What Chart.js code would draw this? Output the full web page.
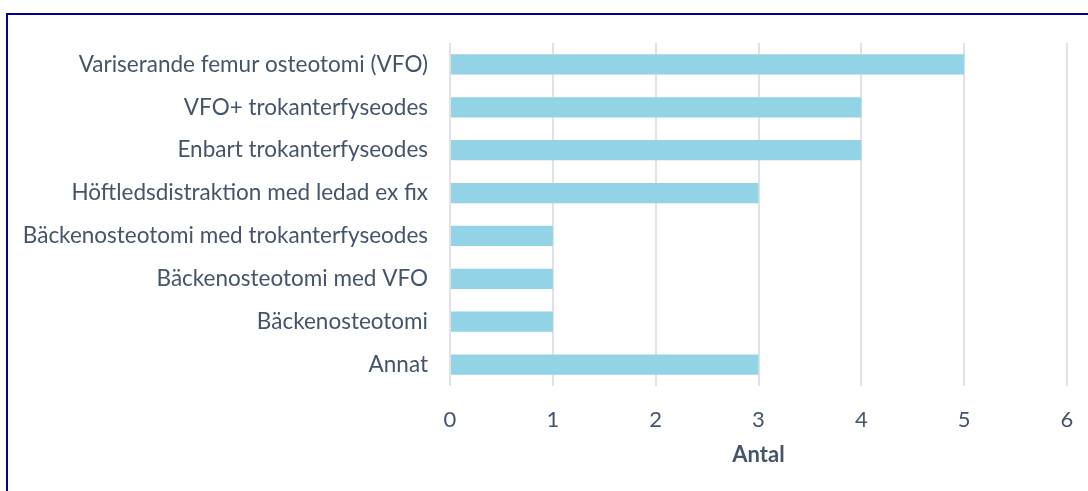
<!DOCTYPE html>
<html>
<head>
<meta charset="utf-8">
<script src="https://cdn.jsdelivr.net/npm/chart.js@4"></script>
<style>
  html, body { margin: 0; padding: 0; background: #fff; overflow: hidden; }
  #frame {
    position: absolute; left: 6px; top: 13px;
    width: 1100px; height: 500px;
    border: 2px solid #000099;
    box-sizing: border-box;
  }
  #wrap { position: absolute; left: 0; top: 0; width: 1088px; height: 491px; }
</style>
</head>
<body>
<div id="frame"></div>
<div id="wrap"><canvas id="chart"></canvas></div>
<script>
// data
const categories = [
  "Variserande femur osteotomi (VFO)",
  "VFO+ trokanterfyseodes",
  "Enbart trokanterfyseodes",
  "Höftledsdistraktion med ledad ex fix",
  "Bäckenosteotomi med trokanterfyseodes",
  "Bäckenosteotomi med VFO",
  "Bäckenosteotomi",
  "Annat"
];
const antal = [5, 4, 4, 3, 1, 1, 1, 3];
const xTicks = [0, 1, 2, 3, 4, 5, 6];
const axisTitle = "Antal";

const textColor = "#44546A";
const fontFamily = "Lato, 'Open Sans', sans-serif";

new Chart(document.getElementById("chart"), {
  type: "bar",
  data: {
    labels: categories,
    datasets: [{
      data: antal,
      backgroundColor: "#93D3E6",
      categoryPercentage: 1,
      barPercentage: 0.47
    }]
  },
  options: {
    indexAxis: "y",
    responsive: true,
    maintainAspectRatio: false,
    animation: false,
    layout: { padding: { top: 43, right: 21, bottom: 0, left: 0 } },
    plugins: { legend: { display: false }, tooltip: { enabled: false } },
    scales: {
      x: {
        min: xTicks[0],
        max: xTicks[xTicks.length - 1],
        afterBuildTicks: s => { s.ticks = xTicks.map(v => ({ value: v })); },
        afterFit: s => { s.height = 105; s.paddingLeft = 0; s.paddingRight = 0; },
        grid: { color: "#DFE3E9", lineWidth: 2, drawTicks: false },
        border: { display: false },
        ticks: { color: textColor, font: { family: fontFamily, size: 22 }, padding: 21 },
        title: {
          display: true, text: axisTitle, color: textColor,
          font: { family: fontFamily, size: 22, weight: "bold" },
          padding: { top: 0, bottom: 23 }
        }
      },
      y: {
        afterFit: s => { s.width = 450; },
        grid: { display: false, drawTicks: false },
        border: { display: false },
        ticks: { color: textColor, font: { family: fontFamily, size: 22.5 }, padding: 22 }
      }
    }
  }
});
</script>
</body>
</html>
